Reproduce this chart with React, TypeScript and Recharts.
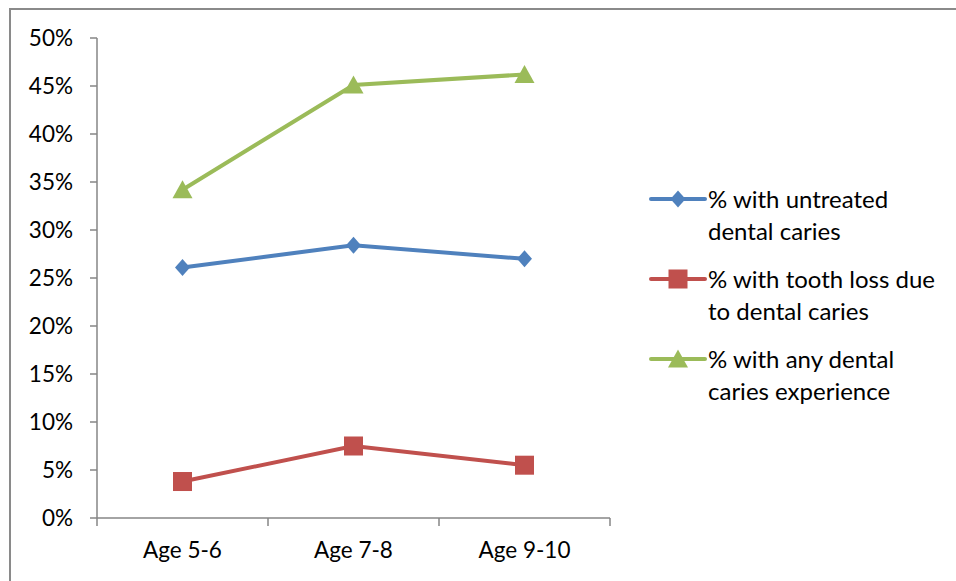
import { LineChart, Line, XAxis, YAxis, Legend } from 'recharts';

const ageGroups = ['Age 5-6', 'Age 7-8', 'Age 9-10'];
const untreatedCaries = [26.1, 28.4, 27.0];
const toothLossCaries = [3.8, 7.5, 5.5];
const anyCariesExperience = [34.2, 45.1, 46.2];
const percentTicks = [0, 5, 10, 15, 20, 25, 30, 35, 40, 45, 50];

const seriesInfo = [
  { key: 'untreated', name: ['% with untreated', 'dental caries'], color: '#4F81BD', shape: 'diamond' },
  { key: 'toothLoss', name: ['% with tooth loss due', 'to dental caries'], color: '#C0504D', shape: 'square' },
  { key: 'anyCaries', name: ['% with any dental', 'caries experience'], color: '#9BBB59', shape: 'triangle' },
];

const data = ageGroups.map((age, i) => ({
  age,
  untreated: untreatedCaries[i],
  toothLoss: toothLossCaries[i],
  anyCaries: anyCariesExperience[i],
}));

const W = 956;
const H = 581;
const PLOT_LEFT = 97;
const PLOT_RIGHT = 610;
const PLOT_TOP = 38;
const PLOT_BOTTOM = 518;
const FONT = 'Lato, Carlito, Calibri, sans-serif';
const AXIS_GRAY = '#868686';
const BAND = (PLOT_RIGHT - PLOT_LEFT) / ageGroups.length;

function Marker({ shape, cx, cy, color }: any) {
  if (cx == null || cy == null) return null;
  if (shape === 'diamond') {
    return <polygon points={`${cx},${cy - 8.5} ${cx + 7.5},${cy} ${cx},${cy + 8.5} ${cx - 7.5},${cy}`} fill={color} />;
  }
  if (shape === 'square') {
    return <rect x={cx - 9.5} y={cy - 9.5} width={19} height={19} fill={color} />;
  }
  return <polygon points={`${cx},${cy - 9.5} ${cx + 10},${cy + 8.5} ${cx - 10},${cy + 8.5}`} fill={color} />;
}

function AgeTick(props: any) {
  const { x, y, payload, index } = props;
  const half = BAND / 2;
  return (
    <g>
      <line x1={x - half} y1={y} x2={x - half} y2={y + 8} stroke={AXIS_GRAY} strokeWidth={1.5} />
      {index === ageGroups.length - 1 && (
        <line x1={x + half} y1={y} x2={x + half} y2={y + 8} stroke={AXIS_GRAY} strokeWidth={1.5} />
      )}
      <text x={x} y={y + 40} textAnchor="middle" fontSize={22.5} fontFamily={FONT} fill="#000">
        {payload.value}
      </text>
    </g>
  );
}

function LegendBox() {
  return (
    <div style={{ fontFamily: FONT, fontSize: 24, color: '#000', lineHeight: '32px', textAlign: 'left' }}>
      {seriesInfo.map((s) => (
        <div key={s.key} style={{ display: 'flex', alignItems: 'flex-start', marginBottom: 16 }}>
          <svg width={59} height={32} style={{ flex: 'none' }}>
            <line x1={2} y1={16} x2={56} y2={16} stroke={s.color} strokeWidth={4} strokeLinecap="round" />
            <Marker shape={s.shape} cx={29} cy={16} color={s.color} />
          </svg>
          <div>
            {s.name.map((line) => (
              <div key={line} style={{ whiteSpace: 'nowrap' }}>{line}</div>
            ))}
          </div>
        </div>
      ))}
    </div>
  );
}

export default function App() {
  return (
    <div style={{ position: 'absolute', left: 0, top: 0, width: W, height: H, overflow: 'hidden', background: '#fff' }}>
      <div
        style={{
          position: 'absolute',
          left: 9,
          top: 8,
          width: W + 20,
          height: H + 20,
          border: '2px solid #8a8a8a',
        }}
      />
      <div style={{ position: 'absolute', left: 0, top: 0 }}>
        <LineChart
          width={W}
          height={H}
          data={data}
          margin={{ top: PLOT_TOP, right: W - PLOT_RIGHT, bottom: 0, left: PLOT_LEFT - 70 }}
        >
          <XAxis
            dataKey="age"
            height={H - PLOT_BOTTOM}
            padding={{ left: BAND / 2, right: BAND / 2 }}
            axisLine={{ stroke: AXIS_GRAY, strokeWidth: 1.5 }}
            tickLine={false}
            tickSize={0}
            tickMargin={0}
            tick={<AgeTick />}
            interval={0}
          />
          <YAxis
            width={70}
            domain={[0, 50]}
            ticks={percentTicks}
            interval={0}
            tickFormatter={(v: number) => `${v}%`}
            axisLine={{ stroke: AXIS_GRAY, strokeWidth: 1.5 }}
            tickLine={{ stroke: AXIS_GRAY, strokeWidth: 1.5 }}
            tickSize={7}
            tickMargin={17}
            tick={{ fontSize: 22.5, fontFamily: FONT, fill: '#000' }}
          />
          <Legend
            layout="vertical"
            align="center"
            verticalAlign="middle"
            content={<LegendBox />}
            wrapperStyle={{ left: 649, top: 183, width: 300 }}
          />
          {seriesInfo.map((s) => (
            <Line
              key={s.key}
              dataKey={s.key}
              stroke={s.color}
              strokeWidth={4}
              isAnimationActive={false}
              dot={(p: any) => <Marker key={`${s.key}-${p.index}`} shape={s.shape} cx={p.cx} cy={p.cy} color={s.color} />}
              activeDot={false}
            />
          ))}
        </LineChart>
      </div>
    </div>
  );
}
